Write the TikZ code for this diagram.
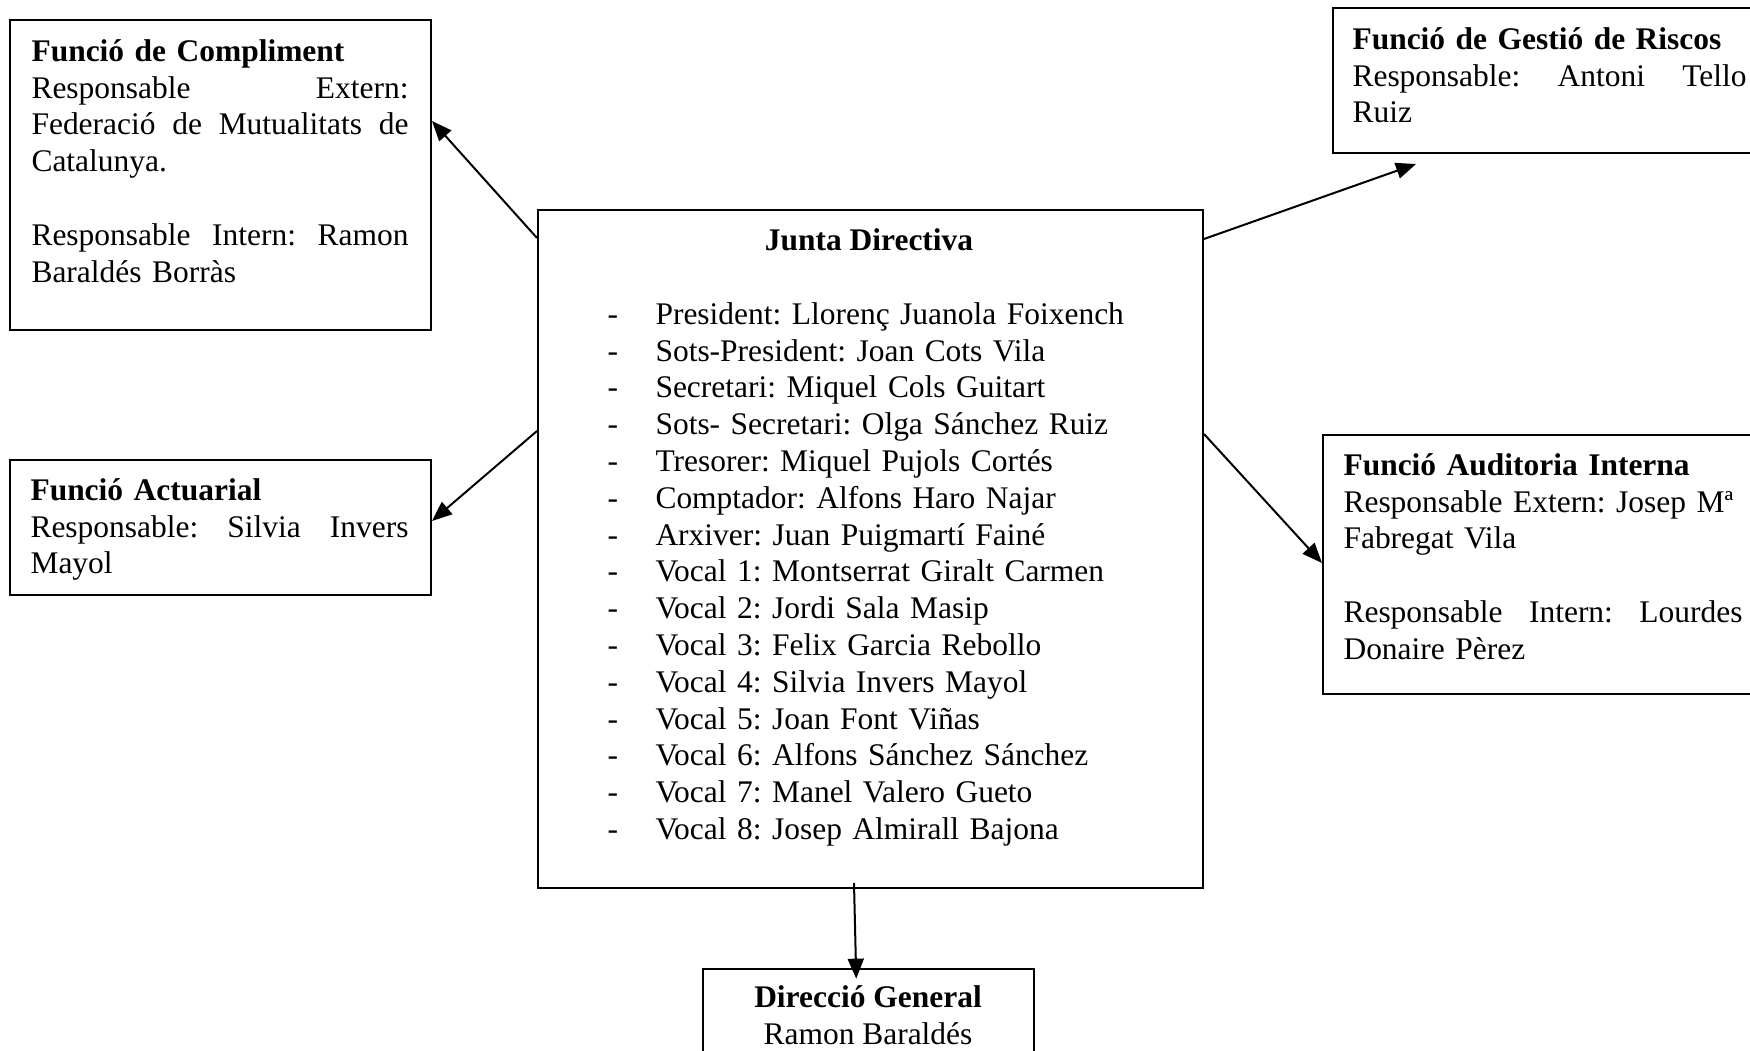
\documentclass[tikz,border=0pt]{standalone}
\usepackage{fontspec}
\setmainfont{Liberation Serif}
\usetikzlibrary{arrows.meta}

\newlength{\pxl}\setlength{\pxl}{0.375pt}
\newcommand{\omple}{\hskip 0pt plus 1filll\relax}
\newcommand{\guio}[1]{\makebox[48\pxl][l]{-}#1}

\tikzset{
  caixa/.style={draw, line width=0.75pt, inner sep=0pt, anchor=north west},
  contingut/.style={inner sep=0pt, anchor=north west, align=left,
    font=\fontsize{11.8pt}{13.8pt}\selectfont\frenchspacing},
  fletxa/.style={-{Triangle[length=7.5pt,width=6pt]}, line width=0.75pt},
}

\begin{document}
\begin{tikzpicture}[x=0.375pt, y=-0.375pt]
\useasboundingbox (0,0) rectangle (1750,1051);

% Funcio de Compliment
\node[caixa, minimum width=421\pxl, minimum height=310\pxl] (compliment) at (9,19) {};
\node[contingut, text width=377\pxl] (compliment-text) at (31,35) {\strut\textbf{Funció de Compliment}\\
  Responsable\omple Extern:\\
  Federació\omple de\omple Mutualitats\omple de\\
  Catalunya.\\[13.8pt]
  Responsable\omple Intern:\omple Ramon\\
  Baraldés Borràs};

% Funcio de Gestio de Riscos
\node[caixa, minimum width=440\pxl, minimum height=145\pxl] (riscos) at (1332,7) {};
\node[contingut, text width=394\pxl] (riscos-text) at (1352,23) {\strut\textbf{Funció de Gestió de Riscos}\\
  Responsable:\omple Antoni\omple Tello\\
  Ruiz};

% Funcio Actuarial
\node[caixa, minimum width=421\pxl, minimum height=135\pxl] (actuarial) at (9,459) {};
\node[contingut, text width=378\pxl] (actuarial-text) at (30,474) {\strut\textbf{Funció Actuarial}\\
  Responsable:\omple Silvia\omple Invers\\
  Mayol};

% Funcio Auditoria Interna
\node[caixa, minimum width=440\pxl, minimum height=259\pxl] (auditoria) at (1322,434) {};
\node[contingut, text width=399\pxl] (auditoria-text) at (1343,449) {\strut\textbf{Funció Auditoria Interna}\\
  Responsable Extern: Josep Mª\\
  Fabregat Vila\\[13.8pt]
  Responsable\omple Intern:\omple Lourdes\\
  Donaire Pèrez};

% Junta Directiva
\node[caixa, minimum width=665\pxl, minimum height=678\pxl] (junta) at (537,209) {};
\node[contingut, anchor=base] (junta-titol) at (869,251) {\textbf{Junta Directiva}};
\node[contingut, text width=560\pxl] (junta-llista) at (607,298) {\strut\guio{President: Llorenç Juanola Foixench}\\
  \guio{Sots-President: Joan Cots Vila}\\
  \guio{Secretari: Miquel Cols Guitart}\\
  \guio{Sots- Secretari: Olga Sánchez Ruiz}\\
  \guio{Tresorer: Miquel Pujols Cortés}\\
  \guio{Comptador: Alfons Haro Najar}\\
  \guio{Arxiver: Juan Puigmartí Fainé}\\
  \guio{Vocal 1: Montserrat Giralt Carmen}\\
  \guio{Vocal 2: Jordi Sala Masip}\\
  \guio{Vocal 3: Felix Garcia Rebollo}\\
  \guio{Vocal 4: Silvia Invers Mayol}\\
  \guio{Vocal 5: Joan Font Viñas}\\
  \guio{Vocal 6: Alfons Sánchez Sánchez}\\
  \guio{Vocal 7: Manel Valero Gueto}\\
  \guio{Vocal 8: Josep Almirall Bajona}};

% Direccio General
\node[caixa, minimum width=331\pxl, minimum height=120\pxl] (direccio) at (702,968) {};
\node[contingut, anchor=north, align=center] (direccio-text) at (868,981) {\strut\textbf{Direcció General}\\
  Ramon Baraldés};

% Fletxes des de la Junta
\coordinate (riscos-punta) at (1416,164);
\draw[fletxa] (junta.west |- 0,238) -- (compliment.east |- 0,121);
\draw[fletxa] (junta.east |- 0,239) -- (riscos-punta);
\draw[fletxa] (junta.west |- 0,431) -- (actuarial.east |- 0,521);
\draw[fletxa] (junta.east |- 0,434) -- (auditoria.west |- 0,563);
\draw[fletxa, shorten >=-4pt] (854,883) -- (direccio.north -| 856,0);

\end{tikzpicture}
\end{document}
